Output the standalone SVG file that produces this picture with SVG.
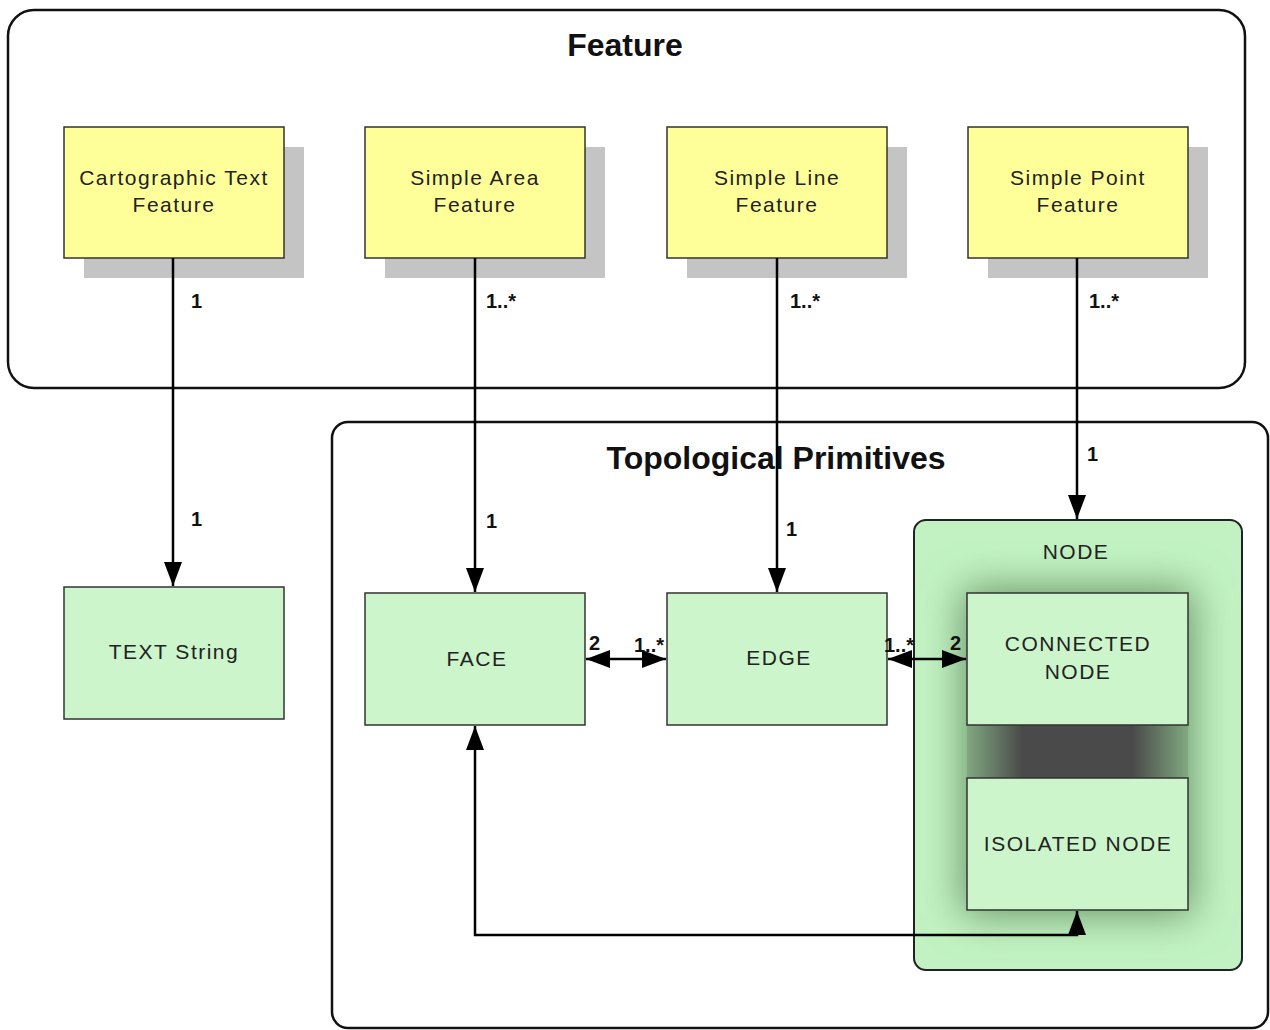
<svg xmlns="http://www.w3.org/2000/svg" width="1270" height="1030" viewBox="0 0 1270 1030">
<defs>
<style>
.cont{fill:#fff;stroke:#111;stroke-width:2.5}
.title{font-family:"Liberation Sans",Arial,sans-serif;font-weight:bold;font-size:32px;fill:#111;text-anchor:middle}
.yel{fill:#ffff99;stroke:#333;stroke-width:1.5}
.shd{fill:#c4c4c4}
.grn{fill:#ccf5cc;stroke:#333;stroke-width:1.5}
.lbl{font-family:"Liberation Sans",Arial,sans-serif;font-size:21px;fill:#222;text-anchor:middle;letter-spacing:1.5px}
.mult{font-family:"Liberation Sans",Arial,sans-serif;font-weight:bold;font-size:20px;fill:#111}
.ln{fill:none;stroke:#000;stroke-width:2.5}
</style>
<marker id="arr" viewBox="0 0 24 18" refX="24" refY="9" markerWidth="24" markerHeight="18" markerUnits="userSpaceOnUse" orient="auto-start-reverse">
<path d="M0,0 L24,9 L0,18 Z" fill="#000"/>
</marker>
<filter id="blur" x="-30%" y="-30%" width="160%" height="160%"><feGaussianBlur stdDeviation="20"/></filter>
<linearGradient id="band" x1="0" y1="0" x2="1" y2="0">
<stop offset="0" stop-color="#80a880"/>
<stop offset="0.25" stop-color="#4a4a4a"/>
<stop offset="0.75" stop-color="#4a4a4a"/>
<stop offset="1" stop-color="#80a880"/>
</linearGradient>
<clipPath id="nodeclip"><rect x="914" y="520" width="328" height="450" rx="12"/></clipPath>
</defs>

<g id="feature-container">
<rect class="cont" x="8" y="10" width="1237" height="378" rx="26"/>
<text class="title" x="625" y="56">Feature</text>
</g>

<g id="topo-container">
<rect class="cont" x="332" y="422" width="936" height="606" rx="16"/>
<text class="title" x="776" y="469">Topological Primitives</text>
</g>

<g id="cartographic-text-feature">
<rect class="shd" x="84" y="147" width="220" height="131"/>
<rect class="yel" x="64" y="127" width="220" height="131"/>
<text class="lbl" x="174" y="185">Cartographic Text</text>
<text class="lbl" x="174" y="212">Feature</text>
</g>
<g id="simple-area-feature">
<rect class="shd" x="385" y="147" width="220" height="131"/>
<rect class="yel" x="365" y="127" width="220" height="131"/>
<text class="lbl" x="475" y="185">Simple Area</text>
<text class="lbl" x="475" y="212">Feature</text>
</g>
<g id="simple-line-feature">
<rect class="shd" x="687" y="147" width="220" height="131"/>
<rect class="yel" x="667" y="127" width="220" height="131"/>
<text class="lbl" x="777" y="185">Simple Line</text>
<text class="lbl" x="777" y="212">Feature</text>
</g>
<g id="simple-point-feature">
<rect class="shd" x="988" y="147" width="220" height="131"/>
<rect class="yel" x="968" y="127" width="220" height="131"/>
<text class="lbl" x="1078" y="185">Simple Point</text>
<text class="lbl" x="1078" y="212">Feature</text>
</g>

<g id="text-string">
<rect class="grn" x="64" y="587" width="220" height="132"/>
<text class="lbl" x="174" y="659">TEXT String</text>
</g>
<g id="face">
<rect class="grn" x="365" y="593" width="220" height="132"/>
<text class="lbl" x="477" y="666">FACE</text>
</g>
<g id="edge">
<rect class="grn" x="667" y="593" width="220" height="132"/>
<text class="lbl" x="779" y="665">EDGE</text>
</g>

<g id="node">
<rect x="914" y="520" width="328" height="450" rx="12" fill="#c2f2c2"/>
<g clip-path="url(#nodeclip)">
<rect x="962" y="588" width="231" height="327" fill="#6a966a" filter="url(#blur)"/>
<rect x="967" y="724" width="221" height="55" fill="url(#band)"/>
</g>
<rect x="914" y="520" width="328" height="450" rx="12" fill="none" stroke="#222" stroke-width="2"/>
<text class="lbl" x="1076" y="559">NODE</text>
</g>
<g id="connected-node">
<rect class="grn" x="967" y="593" width="221" height="132"/>
<text class="lbl" x="1078" y="651">CONNECTED</text>
<text class="lbl" x="1078" y="679">NODE</text>
</g>
<g id="isolated-node">
<rect class="grn" x="967" y="778" width="221" height="132"/>
<text class="lbl" x="1078" y="851">ISOLATED NODE</text>
</g>

<g id="connectors">
<line class="ln" x1="173" y1="258" x2="173" y2="586" marker-end="url(#arr)"/>
<line class="ln" x1="475" y1="258" x2="475" y2="592" marker-end="url(#arr)"/>
<line class="ln" x1="777" y1="258" x2="777" y2="592" marker-end="url(#arr)"/>
<line class="ln" x1="1077" y1="258" x2="1077" y2="519" marker-end="url(#arr)"/>
<line class="ln" x1="586" y1="659" x2="666" y2="659" marker-start="url(#arr)" marker-end="url(#arr)"/>
<line class="ln" x1="888" y1="659" x2="966" y2="659" marker-start="url(#arr)" marker-end="url(#arr)"/>
<polyline class="ln" points="1077,911 1077,935 475,935 475,726" marker-start="url(#arr)" marker-end="url(#arr)"/>
<text class="mult" x="191" y="308">1</text>
<text class="mult" x="191" y="526">1</text>
<text class="mult" x="486" y="308">1..*</text>
<text class="mult" x="486" y="528">1</text>
<text class="mult" x="790" y="308">1..*</text>
<text class="mult" x="786" y="536">1</text>
<text class="mult" x="1089" y="308">1..*</text>
<text class="mult" x="1087" y="461">1</text>
<text class="mult" x="589" y="650">2</text>
<text class="mult" x="634" y="652">1..*</text>
<text class="mult" x="884" y="652">1..*</text>
<text class="mult" x="950" y="650">2</text>
</g>
</svg>
